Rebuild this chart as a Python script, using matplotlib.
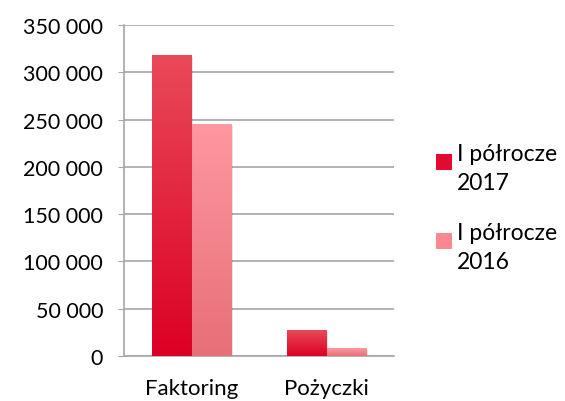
import numpy as np
import matplotlib.pyplot as plt
from matplotlib.colors import LinearSegmentedColormap
from matplotlib.patches import Rectangle

# data
categories = ['Faktoring', 'Pożyczki']
series_names = ['I półrocze\n2017', 'I półrocze\n2016']
h1_2017 = [318000, 27000]
h1_2016 = [245000, 8000]
yticks = [0, 50000, 100000, 150000, 200000, 250000, 300000, 350000]

# gradient colours (top, bottom) per series
grad = [('#e94a59', '#dc0024'), ('#ff97a0', '#e76f78')]
legend_cols = ['#e20a30', '#fb8790']

plt.rcParams['font.family'] = ['Lato', 'DejaVu Sans']

fig = plt.figure(figsize=(5.65, 4.02), dpi=100)
ax = fig.add_axes([124 / 565, 1 - 357 / 402, 270 / 565, 331 / 402])

x = np.arange(len(categories))
w = 0.296
for i, vals in enumerate([h1_2017, h1_2016]):
    cmap = LinearSegmentedColormap.from_list('g%d' % i, [grad[i][1], grad[i][0]])
    offs = x - w / 2 + i * w
    bars = ax.bar(offs, vals, width=w, color='none', edgecolor='none', zorder=3)
    for b in bars:
        bx, by = b.get_x(), b.get_height()
        # soft shadow
        ax.add_patch(Rectangle((bx + 0.012, 0), w, by - 1500, color='#000000',
                               alpha=0.10, lw=0, zorder=2))
        img = np.linspace(0, 1, 256).reshape(-1, 1)
        ax.imshow(img, cmap=cmap, origin='lower', aspect='auto',
                  extent=(bx, bx + w, 0, by), zorder=3, interpolation='bilinear')

ax.set_xlim(-0.5, 1.5)
ax.set_ylim(0, 350000)
ax.set_yticks(yticks)
ax.set_yticklabels(['{:,}'.format(v).replace(',', ' ') for v in yticks])
ax.set_xticks(x)
ax.set_xticklabels(categories)
ax.yaxis.grid(True, color='#a6a6a6', lw=1.2, zorder=0)
ax.set_axisbelow(True)
for s in ['top', 'right']:
    ax.spines[s].set_visible(False)
for s in ['left', 'bottom']:
    ax.spines[s].set_color('#a6a6a6')
    ax.spines[s].set_linewidth(1.2)
ax.tick_params(axis='y', length=4, color='#a6a6a6', labelsize=15.5, pad=11, labelcolor='black')
ax.tick_params(axis='x', length=0, labelsize=16, pad=16, labelcolor='black')

# legend drawn by hand so the box sits next to the first text line
for i, name in enumerate(series_names):
    top = 155 + i * 79
    fig.patches.append(Rectangle((436 / 565, 1 - (top + 16) / 402), 16 / 565, 16 / 402,
                                 transform=fig.transFigure, color=legend_cols[i], lw=0))
    fig.text(457 / 565, 1 - (top - 11) / 402, name, fontsize=16.5, va='top', ha='left',
             linespacing=1.45)

fig.savefig('out.png', dpi=100)
